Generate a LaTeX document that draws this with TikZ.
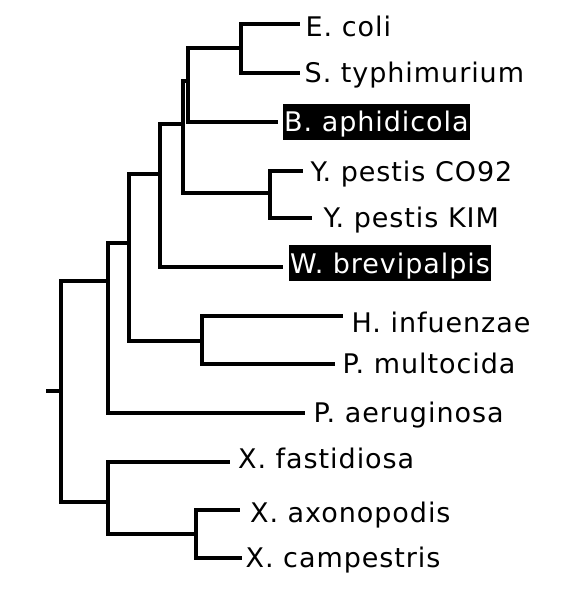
\documentclass[tikz,border=0pt]{standalone}
\usepackage{fontspec}
\setmainfont{DejaVu Sans}[LetterSpace=3.5]
\begin{document}
\begin{tikzpicture}[x=1pt,y=-1pt,
  branch/.style={line width=3.2pt,line join=miter,black},
  leaf/.style={anchor=base west,inner sep=0pt,font=\fontsize{27}{31}\selectfont},
  hilite/.style={anchor=base west,inner xsep=1pt,inner ysep=8pt,text height=20pt,text depth=0pt,fill=black,text=white,font=\fontsize{27}{31}\selectfont}]
\useasboundingbox (0,0) rectangle (580,593);
% leaf labels
\node[leaf] (ecoli) at (305.5,37) {E. coli};
\node[leaf] (styph) at (304.5,83) {S. typhimurium};
\node[hilite] (baph) at (283,132) {B. aphidicola};
\node[leaf] (yco) at (310.5,182) {Y. pestis CO92};
\node[leaf] (ykim) at (323.5,228) {Y. pestis KIM};
\node[hilite] (wbrev) at (289,273) {W. brevipalpis};
\node[leaf] (hinf) at (351.5,332) {H. infuenzae};
\node[leaf] (pmult) at (342.5,373) {P. multocida};
\node[leaf] (paer) at (313.5,422) {P. aeruginosa};
\node[leaf] (xfast) at (238,468) {X. fastidiosa};
\node[leaf] (xaxo) at (250,522) {X. axonopodis};
\node[leaf] (xcamp) at (245.5,567) {X. campestris};
% leaf line ends
\coordinate (e1) at (300,24);
\coordinate (e2) at (300,73);
\coordinate (e3) at (278,122);
\coordinate (e4) at (303,171);
\coordinate (e5) at (312,218);
\coordinate (e6) at (283,267);
\coordinate (e7) at (343,316);
\coordinate (e8) at (335,364);
\coordinate (e9) at (305,413);
\coordinate (e10) at (230,462);
\coordinate (e11) at (240,510);
\coordinate (e12) at (242,558);
% internal nodes
\coordinate (n1) at (241,48);
\coordinate (n2) at (188,81);
\coordinate (nY) at (270,193);
\coordinate (n3) at (183,124);
\coordinate (n4) at (160,174);
\coordinate (nH) at (202,341);
\coordinate (n5) at (129,243);
\coordinate (n6) at (108,281);
\coordinate (nX2) at (196,534);
\coordinate (nX) at (108,502);
\coordinate (root) at (61,391);
\coordinate (stub) at (46,391);
% branches
\draw[branch] (n1) |- (e1);
\draw[branch] (n1) |- (e2);
\draw[branch] (n2) |- (n1);
\draw[branch] (n2) |- (e3);
\draw[branch] (nY) |- (e4);
\draw[branch] (nY) |- (e5);
\draw[branch] (n3) |- (n2);
\draw[branch] (n3) |- (nY);
\draw[branch] (n4) |- (n3);
\draw[branch] (n4) |- (e6);
\draw[branch] (nH) |- (e7);
\draw[branch] (nH) |- (e8);
\draw[branch] (n5) |- (n4);
\draw[branch] (n5) |- (nH);
\draw[branch] (n6) |- (n5);
\draw[branch] (n6) |- (e9);
\draw[branch] (nX2) |- (e11);
\draw[branch] (nX2) |- (e12);
\draw[branch] (nX) |- (e10);
\draw[branch] (nX) |- (nX2);
\draw[branch] (root) |- (n6);
\draw[branch] (root) |- (nX);
\draw[branch] (stub) -- (root);
\end{tikzpicture}
\end{document}
